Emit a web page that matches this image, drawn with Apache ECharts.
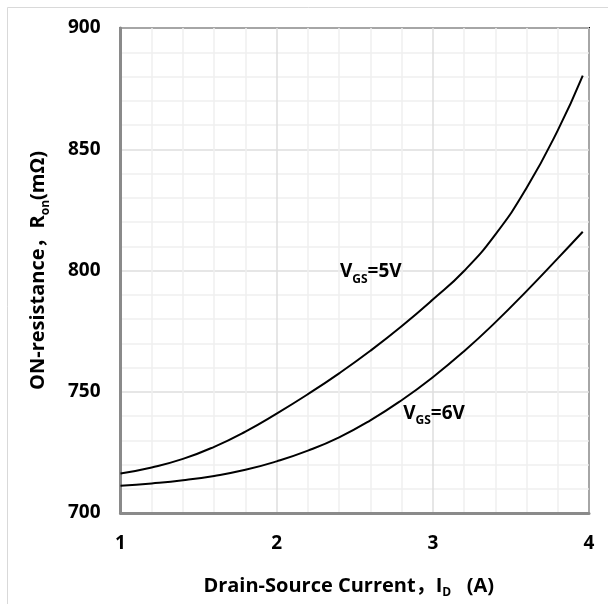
<!DOCTYPE html>
<html>
<head>
<meta charset="utf-8">
<script src="https://cdn.jsdelivr.net/npm/echarts@6/dist/echarts.min.js"></script>
<style>html,body{margin:0;padding:0;background:#fff;}#c{width:608px;height:604px;}</style>
</head>
<body>
<div id="c"></div>
<script>
const FONT = '"Open Sans", "Noto Sans CJK SC", sans-serif';
const xTicks = [1, 2, 3, 4];
const yTicks = [700, 750, 800, 850, 900];
const currentA = [1, 1.2, 1.4, 1.6, 1.8, 2.0, 2.2, 2.4, 2.6, 2.8, 3.0, 3.2, 3.4, 3.6, 3.8, 3.96];
const ron_vgs5 = [716.3, 718.8, 722.3, 727.3, 733.6, 741.0, 749.0, 757.6, 766.9, 777.0, 788.0, 799.8, 814.8, 834.0, 857.8, 880.4];
const ron_vgs6 = [711.2, 712.2, 713.5, 715.3, 717.8, 721.3, 725.7, 731.2, 738.2, 746.5, 756.0, 766.7, 778.6, 791.5, 805.0, 816.0];
const seriesNames = ['VGS=5V', 'VGS=6V'];
const labelAnchors = [[2.405, 799.4], [2.81, 741]];

const chart = echarts.init(document.getElementById('c'), null, {renderer: 'canvas'});
const sub = {fontSize: 12, fontWeight: 'bold', fontFamily: FONT, color: '#000', verticalAlign: 'bottom', padding: [0,0,-3,0]};

function mk(name, vals) {
  return {
    type: 'line', name: name, smooth: 0.5, showSymbol: false, symbol: 'none',
    lineStyle: {color: '#000', width: 2}, z: 5,
    data: currentA.map((x, i) => [x, vals[i]])
  };
}

const option = {
  animation: false,
  backgroundColor: '#fff',
  grid: {left: 120.5, right: 19, top: 28, bottom: 89, show: true, borderColor: '#000', borderWidth: 2, backgroundColor: 'transparent'},
  xAxis: {
    type: 'value', min: 1, max: 4, interval: 1,
    name: 'Drain-Source Current，I{sub|D}   (A)', nameLocation: 'middle', nameGap: 63,
    nameTextStyle: {fontSize: 20, fontWeight: 'bold', fontFamily: FONT, color: '#000', rich: {sub: sub}, padding: [0, 12, 0, 0]},
    axisLine: {show: true, onZero: false, lineStyle: {color: '#8a8a8a', width: 3}},
    axisTick: {show: false},
    axisLabel: {fontSize: 19, fontWeight: 'bold', fontFamily: FONT, color: '#000', margin: 21,
      formatter: v => xTicks.includes(v) ? String(v) : ''},
    splitLine: {show: true, lineStyle: {color: '#dedede', width: 1.5}},
    minorTick: {show: false, splitNumber: 5},
    minorSplitLine: {show: true, lineStyle: {color: '#efefef', width: 1.5}}
  },
  yAxis: {
    type: 'value', min: 700, max: 900, interval: 50,
    name: 'ON-resistance，R{sub|on}(mΩ)', nameLocation: 'middle', nameGap: 72, nameRotate: 90,
    nameTextStyle: {fontSize: 20, fontWeight: 'bold', fontFamily: FONT, color: '#000', rich: {sub: sub}},
    axisLine: {show: true, onZero: false, lineStyle: {color: '#8a8a8a', width: 3}},
    axisTick: {show: false},
    axisLabel: {fontSize: 19, fontWeight: 'bold', fontFamily: FONT, color: '#000', margin: 20,
      formatter: v => yTicks.includes(v) ? String(v) : ''},
    splitLine: {show: true, lineStyle: {color: '#dedede', width: 1.5}},
    minorTick: {show: false, splitNumber: 5},
    minorSplitLine: {show: true, lineStyle: {color: '#efefef', width: 1.5}}
  },
  series: [mk(seriesNames[0], ron_vgs5), mk(seriesNames[1], ron_vgs6)]
};
chart.setOption(option);

const labelTexts = ['V{s|GS}=5V', 'V{s|GS}=6V'];
const gfx = [{
  type: 'rect', shape: {x: 7.5, y: 7.5, width: 800, height: 800},
  style: {fill: 'none', stroke: '#d9d9d9', lineWidth: 1}, silent: true, z: 0
}];
labelAnchors.forEach((p, i) => {
  const px = chart.convertToPixel({gridIndex: 0}, p);
  gfx.push({
    type: 'text', x: px[0], y: px[1], z: 10,
    style: {
      text: labelTexts[i], fill: '#000', fontSize: 19, fontWeight: 'bold', fontFamily: FONT,
      verticalAlign: 'middle', align: 'left',
      rich: {s: {fontSize: 12, fontWeight: 'bold', fontFamily: FONT, fill: '#000', verticalAlign: 'bottom', padding: [0,0,-4,0]}}
    }
  });
});
chart.setOption({graphic: gfx});
</script>
</body>
</html>
